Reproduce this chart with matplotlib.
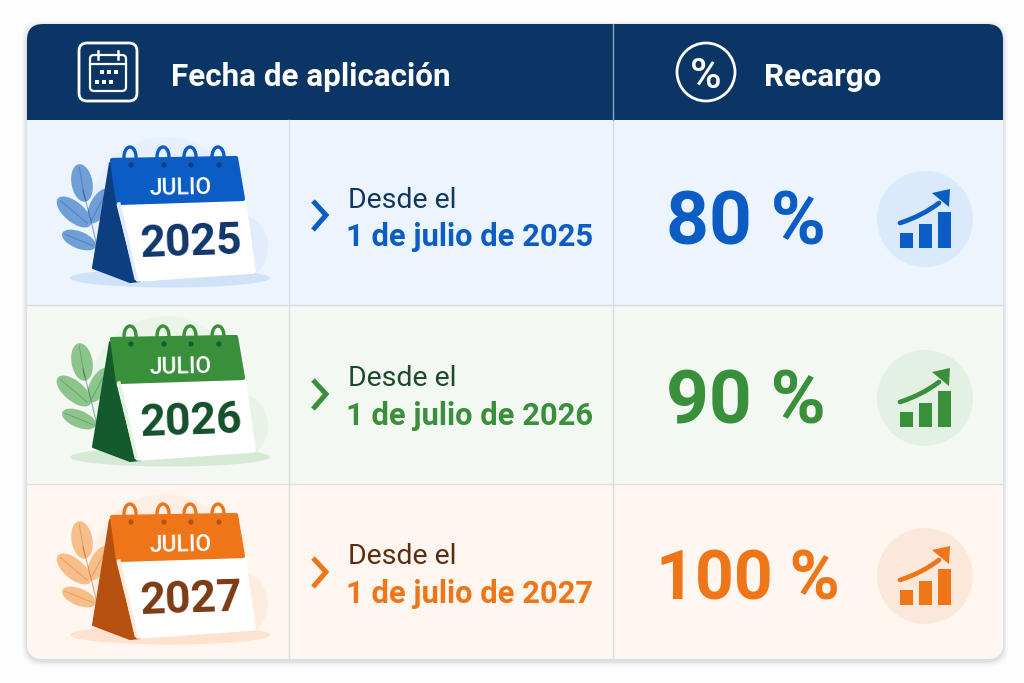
#!/usr/bin/python3
import numpy as np
import matplotlib
matplotlib.use("Agg")
from matplotlib import pyplot as plt
from matplotlib.patches import FancyBboxPatch, Rectangle, Polygon, Circle, Ellipse, Arc, PathPatch
from matplotlib.path import Path

plt.rcParams['font.family'] = ['Roboto', 'DejaVu Sans']

header_labels = ["Fecha de aplicación", "Recargo"]
month = "JULIO"
years = ["2025", "2026", "2027"]
intro = "Desde el"
dates = ["1 de julio de 2025", "1 de julio de 2026", "1 de julio de 2027"]
recargos = ["80 %", "90 %", "100 %"]
mini_bars = [15, 24, 36]

navy = "#0B3564"
row_bg = ["#ECF5FE", "#F3F9F2", "#FFF6F0"]
main_col = ["#0B5CC4", "#3A8F3A", "#EE7518"]
dark_col = ["#0D3F80", "#145A2C", "#B5500F"]
year_col = ["#10376B", "#14502C", "#7A3A14"]
intro_col = ["#12365F", "#1E4A28", "#5A2E14"]
leaf_col = ["#6F9FD6", "#8CC48C", "#F8BE8A"]
halo_col = ["#E0ECFB", "#E4F2E3", "#FDEADD"]
circle_col = ["#DAE9FB", "#E2F1E1", "#FCE8DB"]
shadow_col = ["#CFE2F7", "#D6E9D4", "#FCE2CF"]

row_tops = [120, 305, 484]
row_bottoms = [305, 484, 659]
row_dy = [0, 179, 357]
recargo_size = [54, 54, 49]

fig = plt.figure(figsize=(10.24, 6.83), dpi=100, facecolor="#FDFDFD")
ax = fig.add_axes([0, 0, 1, 1])
ax.set_xlim(0, 1024)
ax.set_ylim(683, 0)
ax.axis('off')

# soft shadow under the card
for grow, alpha in [(5, 0.03), (3, 0.05), (1.5, 0.07)]:
	ax.add_patch(FancyBboxPatch((27 - grow, 24 - grow + 2), 976 + 2 * grow, 635 + 2 * grow,
		boxstyle="round,pad=0,rounding_size=18", fc="#30384A", ec="none", alpha=alpha))

card = FancyBboxPatch((27, 24), 976, 635, boxstyle="round,pad=0,rounding_size=16", fc="white", ec="none")
ax.add_patch(card)

def clipped(patch):
	ax.add_patch(patch)
	patch.set_clip_path(card)
	return patch

clipped(Rectangle((27, 24), 976, 96, fc=navy, ec="none"))
for i in range(3):
	clipped(Rectangle((27, row_tops[i]), 976, row_bottoms[i] - row_tops[i], fc=row_bg[i], ec="none"))

ax.plot([27, 1003], [305, 305], color="#D5DCE3", lw=1)
ax.plot([27, 1003], [484, 484], color="#E2DEDA", lw=1)
ax.plot([289, 289], [120, 659], color="#D9DFE6", lw=1)
ax.plot([613, 613], [120, 659], color="#D5DCE3", lw=1)
ax.plot([613, 613], [24, 120], color="#8FA5BE", lw=1)

# header icons
ax.add_patch(FancyBboxPatch((79, 43), 58, 58, boxstyle="round,pad=0,rounding_size=8", fc="none", ec="white", lw=2))
ax.add_patch(FancyBboxPatch((90, 55), 36, 36, boxstyle="round,pad=0,rounding_size=4", fc="none", ec="white", lw=1.6))
ax.plot([90, 126], [64, 64], color="white", lw=1.6)
for x in [98, 118]:
	ax.plot([x, x], [51, 59], color="white", lw=1.8)
for x, y in [(102, 72), (109, 72), (116, 72), (97, 82), (104, 82), (111, 82)]:
	ax.add_patch(Rectangle((x - 2, y - 2), 4, 4, fc="white", ec="none"))
ax.add_patch(Circle((706, 72), 29, fc="none", ec="white", lw=2))
ax.text(706, 72, "%", color="white", fontsize=31, fontweight='medium', ha='center', va='center_baseline')

ax.text(171, 74, header_labels[0], color="white", fontsize=22.6, fontweight='bold', va='center_baseline')
ax.text(764, 74, header_labels[1], color="white", fontsize=22.6, fontweight='bold', va='center_baseline')


def draw_leaf(cx, cy, length, width, angle, col, vein):
	ax.add_patch(Ellipse((cx, cy), length, width, angle=angle, fc=col, ec="none"))
	t = np.radians(angle)
	dx, dy = np.cos(t) * length * 0.42, np.sin(t) * length * 0.42
	ax.plot([cx - dx, cx + dx], [cy - dy, cy + dy], color=vein, lw=0.6, alpha=0.35)


def draw_calendar(i, dy):
	ax.add_patch(Circle((165, 212 + dy), 75, fc=halo_col[i], ec="none", alpha=0.55))
	ax.add_patch(Ellipse((243, 247 + dy), 50, 62, fc=halo_col[i], ec="none", alpha=0.8))
	ax.add_patch(Ellipse((170, 278 + dy), 200, 19, fc=shadow_col[i], ec="none"))

	# leaves and stem
	draw_leaf(82, 183 + dy, 38, 21, 80, leaf_col[i], dark_col[i])
	draw_leaf(74, 212 + dy, 42, 20, 40, leaf_col[i], dark_col[i])
	draw_leaf(79, 240 + dy, 36, 17, 22, leaf_col[i], dark_col[i])
	draw_leaf(99, 206 + dy, 38, 18, -62, leaf_col[i], dark_col[i])
	ax.plot([83, 92, 99], [190 + dy, 225 + dy, 255 + dy], color=dark_col[i], lw=0.8, alpha=0.45)

	# back of the stand
	ax.add_patch(Polygon([(110, 163 + dy), (93, 268 + dy), (130, 282 + dy), (140, 281 + dy), (118, 203 + dy)],
		closed=True, fc=dark_col[i], ec=dark_col[i], lw=1.5, joinstyle='round'))
	# sheet
	ax.add_patch(Polygon([(119, 203 + dy), (243, 199 + dy), (253, 271 + dy), (138, 279 + dy)],
		closed=True, fc="white", ec="white", lw=4, joinstyle='round'))
	ax.plot([119, 136], [204 + dy, 278 + dy], color=halo_col[i], lw=2.5)
	# top band
	ax.add_patch(Polygon([(112, 160 + dy), (236, 158 + dy), (243, 199 + dy), (118, 203 + dy)],
		closed=True, fc=main_col[i], ec=main_col[i], lw=3, joinstyle='round'))
	# rings
	for x in [130, 163, 190, 218]:
		ax.add_patch(Circle((x + 1, 165 + dy), 2.6, fc=dark_col[i], ec="none"))
		ax.add_patch(Arc((x, 157 + dy), 12, 20, theta1=120, theta2=420, ec=main_col[i], lw=2.4))

	ax.text(181, 185 + dy, month, color="white", fontsize=16.5, fontweight='medium',
		ha='center', va='center_baseline', rotation=1)
	ax.text(191, 237 + dy, years[i], color=year_col[i], fontsize=32, fontweight='bold',
		ha='center', va='center_baseline', rotation=2)


for i in range(3):
	dy = row_dy[i]
	draw_calendar(i, dy)

	ax.plot([313, 326, 313], [201 + dy, 215 + dy, 230 + dy], color=main_col[i], lw=3.6,
		solid_joinstyle='miter', solid_capstyle='butt')
	ax.text(348, 197 + dy, intro, color=intro_col[i], fontsize=20.5, va='center_baseline')
	ax.text(346, 234 + dy, dates[i], color=main_col[i], fontsize=22.2, fontweight='bold', va='center_baseline')
	ax.text(746 + (2 if i == 2 else 0), 217 + dy, recargos[i], color=main_col[i], fontsize=recargo_size[i],
		fontweight='bold', ha='center', va='center_baseline')

	ax.add_patch(Circle((925, 219 + dy), 48, fc=circle_col[i], ec="none"))
	ax.bar([906.5, 925.5, 944], [-h for h in mini_bars], bottom=248 + dy, width=13, color=main_col[i])
	curve = Path([(900, 223 + dy), (922, 216 + dy), (939, 203 + dy)], [Path.MOVETO, Path.CURVE3, Path.CURVE3])
	ax.add_patch(PathPatch(curve, fc="none", ec=main_col[i], lw=3.4, capstyle='round'))
	ax.add_patch(Polygon([(950, 189 + dy), (949, 207 + dy), (932, 193 + dy)], closed=True, fc=main_col[i], ec="none"))

fig.savefig("out.png", dpi=100, facecolor=fig.get_facecolor())
